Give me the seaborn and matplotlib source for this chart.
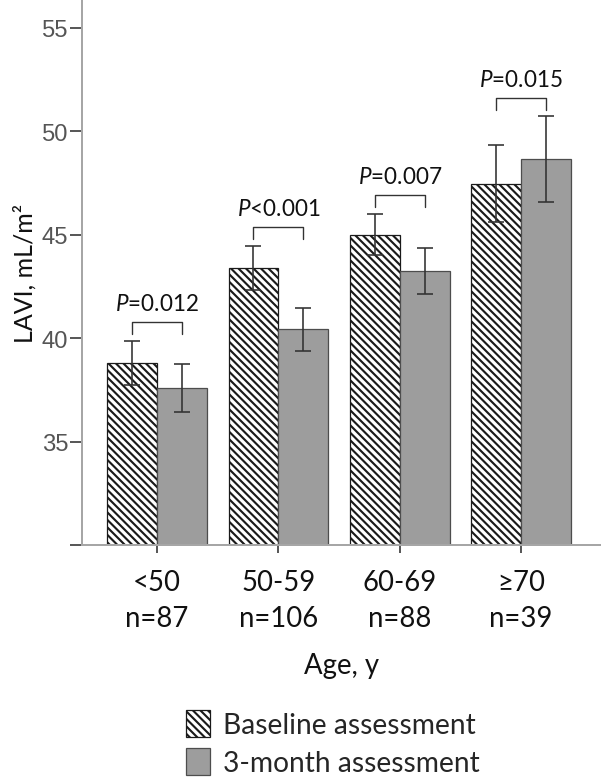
import numpy as np
import pandas as pd
import matplotlib
matplotlib.use('Agg')
import matplotlib.pyplot as plt
from matplotlib.patches import Patch
import seaborn as sns

# Werte
age_groups = ['<50', '50-59', '60-69', '≥70']
n_counts = [87, 106, 88, 39]
baseline = [38.8, 43.4, 45.0, 47.45]
baseline_lo = [37.73, 42.32, 44.0, 45.6]
baseline_hi = [39.86, 44.47, 46.01, 49.32]
followup = [37.58, 40.43, 43.26, 48.68]
followup_lo = [36.41, 39.37, 42.15, 46.6]
followup_hi = [38.74, 41.45, 44.37, 50.72]
p_values = ['=0.012', '<0.001', '=0.007', '=0.015']
series = ['Baseline assessment', '3-month assessment']

sns.set_theme(style='white')
plt.rcParams['font.family'] = ['Lato', 'DejaVu Sans']
plt.rcParams['mathtext.fontset'] = 'custom'
plt.rcParams['mathtext.it'] = 'Lato:italic'
plt.rcParams['mathtext.rm'] = 'Lato'
plt.rcParams['hatch.linewidth'] = 1.7

HATCH = '\\\\\\\\'

df = pd.DataFrame({
    'age': age_groups * 2,
    'lavi': baseline + followup,
    'assessment': [series[0]] * 4 + [series[1]] * 4,
})

fig = plt.figure(figsize=(607 / 90, 782 / 90), dpi=90)
ax = fig.add_axes([82 / 607, 236 / 782, 518 / 607, 546 / 782])

sns.barplot(data=df, x='age', y='lavi', hue='assessment', order=age_groups,
            hue_order=series, palette=['white', '#9d9d9d'], width=0.82,
            errorbar=None, legend=False, ax=ax)

for bar in ax.containers[0]:
    bar.set_hatch(HATCH)
    bar.set_edgecolor('#1a1a1a')
    bar.set_linewidth(1.0)
for bar in ax.containers[1]:
    bar.set_edgecolor('#4d4d4d')
    bar.set_linewidth(1.0)

# Fehlerbalken
centers = []
for cont, mean, lo, hi in [(ax.containers[0], baseline, baseline_lo, baseline_hi),
                           (ax.containers[1], followup, followup_lo, followup_hi)]:
    xs = [b.get_x() + b.get_width() / 2 for b in cont]
    centers.append(xs)
    yerr = [np.array(mean) - np.array(lo), np.array(hi) - np.array(mean)]
    ax.errorbar(xs, mean, yerr=yerr, fmt='none', ecolor='#333333',
                elinewidth=1.3, capsize=6.5, capthick=1.3, zorder=5)

# Klammern mit P-Werten
for i in range(4):
    x0, x1 = centers[0][i], centers[1][i]
    y_leg = max(baseline_hi[i], followup_hi[i]) + 0.32
    y_top = y_leg + 0.58
    ax.plot([x0, x0, x1, x1], [y_leg, y_top, y_top, y_leg], color='#333333', lw=1.1)
    ax.text((x0 + x1) / 2, y_top + 0.58, '$P$' + p_values[i], ha='center',
            va='baseline', fontsize=18, color='#111111')

ax.set_ylim(30, 56.4)
ax.set_xlim(-0.618, 3.65)
ax.set_yticks([30, 35, 40, 45, 50, 55])
ax.set_yticklabels(['', '35', '40', '45', '50', '55'], family='Liberation Sans',
                   fontsize=19, color='#555555')
ax.set_xticks(range(4))
ax.set_xticklabels([f'{a}\nn={n}' for a, n in zip(age_groups, n_counts)],
                   fontsize=22, linespacing=1.45, color='#111111')
ax.tick_params(axis='y', direction='out', length=9.6, width=1.3, color='#333333', pad=1.5, left=True)
ax.tick_params(axis='x', direction='out', length=6.4, width=1.3, color='#333333', pad=13, bottom=True)

sns.despine(ax=ax)
for side in ['left', 'bottom']:
    ax.spines[side].set_color('#a6a6a6')
    ax.spines[side].set_linewidth(1.6)

ax.set_xlabel('Age, y', fontsize=22, labelpad=17, color='#111111')
ax.set_ylabel('LAVI, mL/m²', fontsize=20, labelpad=4, color='#111111')

handles = [Patch(facecolor='white', edgecolor='#1a1a1a', hatch=HATCH, linewidth=1.0),
           Patch(facecolor='#9d9d9d', edgecolor='#4d4d4d', linewidth=1.0)]
fig.legend(handles, series, loc='upper left', bbox_to_anchor=(186 / 607, 1 - 711 / 782),
           frameon=False, fontsize=22.5, handlelength=0.85, handleheight=1.12,
           labelspacing=0.33, handletextpad=0.46, borderaxespad=0, borderpad=0)

fig.savefig('out.png', dpi=90)
